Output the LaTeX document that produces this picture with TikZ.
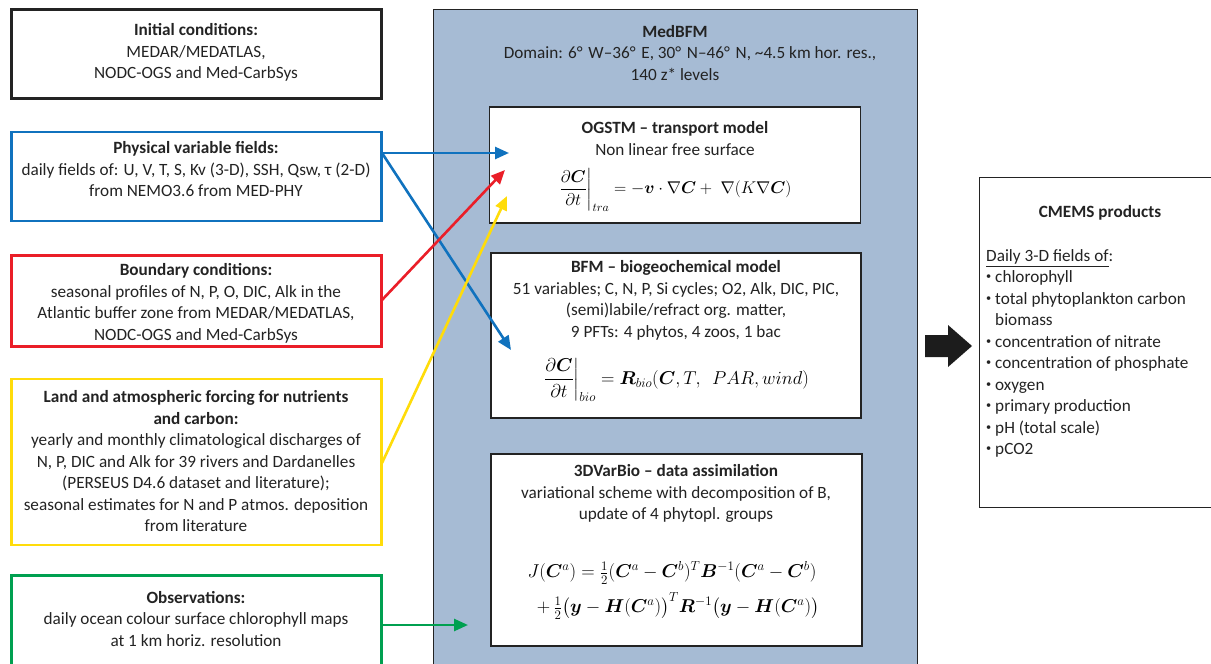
\RequirePackage{fix-cm}
\documentclass[tikz,border=0pt]{standalone}
\usepackage{amsmath,bm}
\usepackage{graphicx}
\usepackage{fontspec}
\setmainfont{Carlito}
\usetikzlibrary{arrows.meta,calc}
\definecolor{cblue}{RGB}{16,114,190}
\definecolor{cred}{RGB}{234,30,40}
\definecolor{cyellow}{RGB}{255,220,10}
\definecolor{cgreen}{RGB}{0,160,80}
\definecolor{cfill}{RGB}{166,187,212}
\definecolor{cdark}{RGB}{35,35,35}
\newcommand{\sbul}{\raisebox{0.35ex}{\scalebox{0.6}{\textbullet}}}
\begin{document}
\begin{tikzpicture}[x=1pt,y=-1pt,
  inbox/.style={draw, line width=2.6pt, inner sep=0pt, outer sep=0pt, anchor=north west},
  modbox/.style={draw=cdark, line width=1.3pt, fill=white, inner sep=0pt, outer sep=0pt, anchor=north west},
  txt/.style={font=\fontsize{17.2}{21.5}\selectfont, align=center, inner sep=0pt, text=cdark},
  eq/.style={font=\fontsize{17}{21.5}\selectfont, inner sep=0pt, text=black},
  eqb/.style={font=\fontsize{18.6}{21.5}\selectfont, inner sep=0pt, text=black},
  arr/.style={line width=2.6pt, -{Triangle[length=14pt,width=12pt]}},
]
\useasboundingbox (0,0) rectangle (1211,664);
\clip (0,0) rectangle (1211,664);

% big MedBFM box
\node[draw=cdark, line width=1.3pt, fill=cfill, inner sep=0pt, anchor=north west,
      minimum width=484pt, minimum height=680pt] (med) at (433,8.5) {};
\node[txt] (medt) at (675,53) {\textbf{MedBFM}\\ \hspace*{30pt}Domain: 6°\,\,W–36°\,\,E, 30°\,\,N–46°\,\,N, \textasciitilde4.5 km hor. res.,\\ 140 z* levels};

% OGSTM
\node[modbox, minimum width=371pt, minimum height=116pt] (ogs) at (489.5,107) {};
\node[txt] (ogst) at (675,138.5) {\textbf{OGSTM – transport model}\\ Non linear free surface};
\node[eq] (ogse) at (675,190) {$\displaystyle \left.\frac{\partial \bm{C}}{\partial t}\right|_{tra} = -\bm{v}\cdot\nabla\bm{C} +\; \nabla(K\nabla\bm{C})$};

% BFM
\node[modbox, minimum width=370pt, minimum height=165pt] (bfm) at (491,253) {};
\node[txt] (bfmt) at (676,300.5) {\textbf{BFM – biogeochemical model}\\ 51 variables; C, N, P, Si cycles; O2, Alk, DIC, PIC,\\ (semi)labile/refract org. matter,\\ 9 PFTs: 4 phytos, 4 zoos, 1 bac};
\node[eqb] (bfme) at (676,380) {$\displaystyle \left.\frac{\partial \bm{C}}{\partial t}\right|_{bio} = \bm{R}_{bio}(\bm{C}, T,\ \ PAR, wind)$};

% 3DVarBio
\node[modbox, minimum width=371pt, minimum height=192pt] (var) at (491,454) {};
\node[txt] (vart) at (676,493.5) {\textbf{3DVarBio – data assimilation}\\ variational scheme with decomposition of B,\\ update of 4 phytopl. groups};
\node[eqb] (vare1) at (672,573) {$J(\bm{C}^a) = \tfrac{1}{2}(\bm{C}^a - \bm{C}^b)^T\bm{B}^{-1}(\bm{C}^a - \bm{C}^b)$};
\node[eqb] (vare2) at (678,606) {$+\,\tfrac{1}{2}\bigl(\bm{y} - \bm{H}(\bm{C}^a)\bigr)^T\bm{R}^{-1}\bigl(\bm{y} - \bm{H}(\bm{C}^a)\bigr)$};

% left input boxes
\node[inbox, draw=cdark, minimum width=370pt, minimum height=89pt] (ini) at (11.3,9.3) {};
\node[txt] (init) at (196,52.5) {\textbf{Initial conditions:}\\ MEDAR/MEDATLAS,\\ NODC-OGS and Med-CarbSys};

\node[inbox, draw=cblue, minimum width=370pt, minimum height=89pt] (phy) at (11.3,132) {};
\node[txt] (phyt) at (196,169.5) {\textbf{Physical variable fields:}\\ daily fields of: U, V, T, S, Kv (3-D), SSH, Qsw, τ (2-D)\\ from NEMO3.6 from MED-PHY};

\node[inbox, draw=cred, minimum width=370pt, minimum height=91pt] (bnd) at (11.3,255.5) {};
\node[txt] (bndt) at (196,303.5) {\textbf{Boundary conditions:}\\ seasonal profiles of N, P, O, DIC, Alk in the\\ Atlantic buffer zone from MEDAR/MEDATLAS,\\ NODC-OGS and Med-CarbSys};

\node[inbox, draw=cyellow, minimum width=370pt, minimum height=166pt] (lnd) at (11.3,379) {};
\node[txt] (lndt) at (196,461.5) {\textbf{Land and atmospheric forcing for nutrients}\\ \textbf{and carbon:}\\ yearly and monthly climatological discharges of\\ N, P, DIC and Alk for 39 rivers and Dardanelles\\ (PERSEUS D4.6 dataset and literature);\\ seasonal estimates for N and P atmos. deposition\\ from literature};

\node[inbox, draw=cgreen, minimum width=370pt, minimum height=120pt] (obs) at (11.3,575.5) {};
\node[txt] (obst) at (196,619) {\textbf{Observations:}\\ daily ocean colour surface chlorophyll maps\\ at 1 km horiz. resolution};

% CMEMS box
\node[draw=cdark, line width=1.3pt, inner sep=0pt, anchor=north west, minimum width=240pt, minimum height=330pt] (cme) at (978.5,176.5) {};
\node[txt] (cmet) at (1100,213) {\textbf{CMEMS products}};
\node[txt, align=left, anchor=west] (cmel) at (986,353.5) {\underline{Daily 3-D fields of}:\\
\sbul\ chlorophyll\\
\sbul\ total phytoplankton carbon\\
\phantom{\sbul}\ biomass\\
\sbul\ concentration of nitrate\\
\sbul\ concentration of phosphate\\
\sbul\ oxygen\\
\sbul\ primary production\\
\sbul\ pH (total scale)\\
\sbul\ pCO2};

% block arrow
\fill[cdark!80!black] (925,335) -- (948,335) -- (948,325) -- (972,346) -- (948,367) -- (948,357) -- (925,357) -- cycle;

% connectors
\coordinate (phyo) at (382,153);
\coordinate (bndo) at (382,300);
\coordinate (lndo) at (382,463);
\coordinate (obso) at (382,625);
\coordinate (ogsA) at (509,153);
\coordinate (ogsB) at (505,170);
\coordinate (ogsC) at (507,196);
\coordinate (bfmA) at (511,350);
\coordinate (varA) at (468,625);
\draw[arr, cblue] (phyo) -- (ogsA);
\draw[arr, cblue] (phyo) -- (bfmA);
\draw[arr, cred] (bndo) -- (ogsB);
\draw[arr, cyellow] (lndo) -- (ogsC);
\draw[arr, cgreen] (obso) -- (varA);
\end{tikzpicture}
\end{document}
